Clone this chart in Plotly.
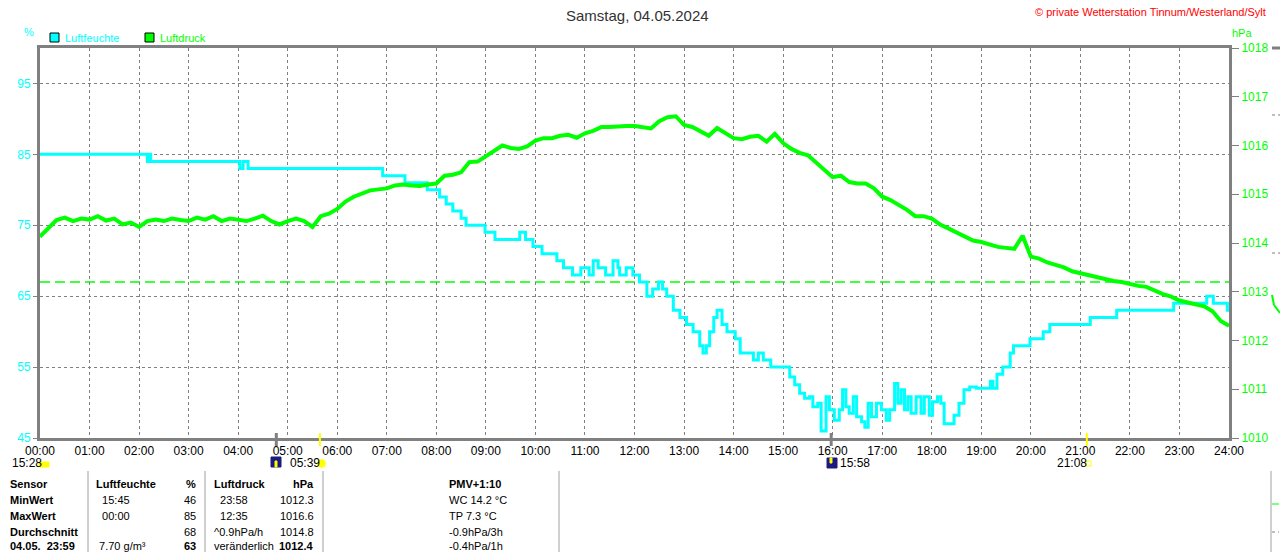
import plotly.graph_objects as go

# Luftfeuchte: change points (minute of day, %)
hum_minutes = [0, 130, 132, 134, 242, 246, 252, 415, 442, 469, 484, 492, 500, 510, 516,
               539, 551, 581, 588, 597, 608, 626, 634, 645, 655, 665, 670, 676, 685, 694,
               700, 702, 710, 718, 726, 735, 742, 749, 754, 759, 767, 775, 783, 791, 799,
               803, 807, 811, 816, 820, 826, 832, 842, 848, 864, 870, 876, 885, 908, 914,
               920, 926, 932, 936, 942, 946, 952, 956, 962, 968, 972, 976, 980, 985, 989,
               995, 999, 1003, 1007, 1013, 1019, 1025, 1029, 1035, 1039, 1043, 1047, 1051,
               1055, 1061, 1067, 1071, 1077, 1081, 1087, 1091, 1095, 1101, 1107, 1113, 1119,
               1126, 1134, 1151, 1154, 1159, 1166, 1175, 1179, 1199, 1215, 1223, 1272, 1304,
               1373, 1413, 1421, 1438, 1440]
hum_values = [85, 84, 85, 84, 83, 84, 83, 82, 81, 80, 79, 78, 77, 76, 75,
              74, 73, 74, 73, 72, 71, 70, 69, 68, 69, 68, 70, 69, 68, 70,
              69, 68, 69, 68, 67, 65, 66, 67, 66, 65, 63, 62, 61, 60, 58,
              57, 58, 60, 62, 63, 61, 60, 59, 57, 56, 57, 56, 55, 53.6, 52.5,
              51.3, 50.6, 50.8, 49.4, 49.9, 46.0, 50.8, 49.0, 47.5, 49.0, 51.8, 49.4, 48.5, 50.8, 48.0,
              47.3, 46.5, 49.9, 48.0, 49.9, 49.0, 47.5, 49.0, 52.7, 49.9, 51.8, 49.0, 50.8,
              48.5, 50.8, 48.5, 50.8, 48.2, 50.1, 50.8, 49.9, 47.0, 47.0, 48.2, 49.9, 51.8,
              52.2, 52.0, 53.0, 52.0, 54.0, 55.0, 57.0, 58.0, 59.0, 60.0, 61.0, 62.0, 63.0,
              64.0, 65.0, 64.0, 63.0, 63.0]

# Luftdruck every 10 minutes (hPa)
pres_values = [1014.13, 1014.30, 1014.47, 1014.52, 1014.45, 1014.50, 1014.48, 1014.55, 1014.46, 1014.50,
               1014.38, 1014.42, 1014.33, 1014.45, 1014.48, 1014.45, 1014.50, 1014.47, 1014.45, 1014.52,
               1014.48, 1014.55, 1014.45, 1014.50, 1014.48, 1014.45, 1014.50, 1014.56, 1014.45, 1014.38,
               1014.45, 1014.50, 1014.45, 1014.33, 1014.55, 1014.60, 1014.70, 1014.85, 1014.95, 1015.02,
               1015.08, 1015.10, 1015.12, 1015.18, 1015.20, 1015.18, 1015.17, 1015.20, 1015.22, 1015.38,
               1015.40, 1015.45, 1015.66, 1015.67, 1015.78, 1015.90, 1016.00, 1015.95, 1015.93, 1015.98,
               1016.10, 1016.15, 1016.15, 1016.20, 1016.22, 1016.16, 1016.25, 1016.30, 1016.38, 1016.38,
               1016.40, 1016.40, 1016.40, 1016.38, 1016.35, 1016.50, 1016.58, 1016.60, 1016.42, 1016.38,
               1016.28, 1016.20, 1016.36, 1016.25, 1016.15, 1016.13, 1016.18, 1016.20, 1016.08, 1016.24,
               1016.05, 1015.93, 1015.85, 1015.80, 1015.65, 1015.50, 1015.35, 1015.38, 1015.25, 1015.22,
               1015.22, 1015.12, 1014.95, 1014.88, 1014.78, 1014.68, 1014.55, 1014.55, 1014.50, 1014.38,
               1014.30, 1014.22, 1014.12, 1014.05, 1014.02, 1013.97, 1013.92, 1013.90, 1013.88, 1014.15,
               1013.72, 1013.68, 1013.60, 1013.55, 1013.50, 1013.42, 1013.38, 1013.33, 1013.28, 1013.25,
               1013.22, 1013.20, 1013.15, 1013.12, 1013.10, 1013.02, 1012.95, 1012.90, 1012.82, 1012.78,
               1012.73, 1012.70, 1012.60, 1012.40, 1012.30]
pres_minutes = list(range(0, 1441, 10))

ref_pressure = 1013.2

hour_labels = ["%02d:00" % h for h in range(25)]
hum_ticks = [45, 55, 65, 75, 85, 95]
pres_ticks = [1010, 1011, 1012, 1013, 1014, 1015, 1016, 1017, 1018]

# sun / moon events (hour of day) shown as ticks under the axis
event_hours = [4.77, 5.65, 15.97, 21.13]
event_colors = ["#808080", "#ffff00", "#808080", "#ffff00"]

table_rows = [
    ["Sensor", "Luftfeuchte", "%", "Luftdruck", "hPa"],
    ["MinWert", "  15:45", "46", "  23:58", "1012.3"],
    ["MaxWert", "  00:00", "85", "  12:35", "1016.6"],
    ["Durchschnitt", "", "68", "^0.9hPa/h", "1014.8"],
    ["04.05.  23:59", " 7.70 g/m³", "63", "veränderlich", "1012.4"],
]
pmv_lines = ["PMV+1:10", "WC 14.2 °C", "TP 7.3 °C", "-0.9hPa/3h", "-0.4hPa/1h"]

CYAN = "#00ffff"
GREEN = "#00ff00"
GRAY = "#808080"
FONT = "Liberation Sans"

W, H = 1280, 552
L, R, T, B = 40, 51, 48, 114


def px(xp, yp):
    # pixel position -> paper coordinates
    return (xp - L) / (W - L - R), (H - B - yp) / (H - T - B)


fig = go.Figure()

fig.add_trace(go.Scatter(
    x=[m / 60 for m in hum_minutes], y=hum_values, mode="lines",
    line=dict(color=CYAN, width=3, shape="hv"), name="Luftfeuchte", yaxis="y"))

fig.add_trace(go.Scatter(
    x=[m / 60 for m in pres_minutes], y=pres_values, mode="lines",
    line=dict(color=GREEN, width=4), name="Luftdruck", yaxis="y2"))

shapes = [dict(type="line", xref="paper", x0=0, x1=1, yref="y2", y0=ref_pressure, y1=ref_pressure,
               line=dict(color=GREEN, width=1.5, dash="10px,5px"), layer="below")]

for h, c in zip(event_hours, event_colors):
    y0 = px(0, 433)[1]
    y1 = px(0, 446)[1]
    shapes.append(dict(type="line", xref="x", x0=h, x1=h, yref="paper", y0=y0, y1=y1,
                       line=dict(color=c, width=3 if c == GRAY else 2)))

ann = []


def text(xp, yp, s, color="black", size=12, anchor="left", bold=False):
    x, y = px(xp, yp)
    ann.append(dict(x=x, y=y, xref="paper", yref="paper", text="<b>%s</b>" % s if bold else s,
                    showarrow=False, xanchor=anchor, yanchor="middle",
                    font=dict(family=FONT, size=size, color=color)))


def box(x0, y0, x1, y1, fill, line="black", width=1):
    a, b = px(x0, y1)
    c, d = px(x1, y0)
    shapes.append(dict(type="rect", xref="paper", yref="paper", x0=a, y0=b, x1=c, y1=d,
                       fillcolor=fill, line=dict(color=line, width=width)))


def seg(x0, y0, x1, y1, color=GRAY, width=1, dash=None):
    a, b = px(x0, y0)
    c, d = px(x1, y1)
    shapes.append(dict(type="line", xref="paper", yref="paper", x0=a, y0=b, x1=c, y1=d,
                       line=dict(color=color, width=width, dash=dash)))


# header
text(638, 15, "Samstag, 04.05.2024", color="#333333", size=15, anchor="center")
text(1268, 12, "© private Wetterstation Tinnum/Westerland/Sylt", color="#ff0000", size=11, anchor="right")
text(22, 32, "%", color=CYAN, size=11)
text(1230, 33, "hPa", color=GREEN, size=11)

# legend
box(50, 33, 59, 42, CYAN)
text(63, 38, "Luftfeuchte", color=CYAN, size=11)
box(145, 33, 154, 42, GREEN)
text(158, 38, "Luftdruck", color=GREEN, size=11)

# sun / moon labels below the time axis
text(10, 463, "15:28", size=12)
box(39, 462, 49, 467, "#ffff00", line="#ffff00")
box(271, 457, 281, 467, "#1a1a80", line="#1a1a80")
box(275, 461, 277, 467, "#ffff00", line="#ffff00")
text(288, 463, "05:39", size=12)
shapes.append(dict(type="circle", xref="paper", yref="paper",
                   x0=px(317, 0)[0], x1=px(326, 0)[0], y0=px(0, 468)[1], y1=px(0, 459)[1],
                   fillcolor="#ffff00", line=dict(color="#ffffa0", width=1)))
box(827, 458, 837, 468, "#1a1a80", line="#1a1a80")
box(830, 458, 832, 463, "#ffff00", line="#ffff00")
text(838, 463, "15:58", size=12)
text(1055, 463, "21:08", size=12)
box(1086, 461, 1091, 466, "white", line="#ffff00")

# table
col_x = [8, 94, 198, 212, 316]
col_anchor = ["left", "left", "right", "left", "right"]
row_y = [484, 500, 516, 532, 546]
for r, row in enumerate(table_rows):
    for c, s in enumerate(row):
        if not s:
            continue
        bold = r == 0 or c == 0 or (r == 4 and c in (2, 4))
        text(col_x[c], row_y[r], s.replace(" ", "&nbsp;"), size=11, anchor=col_anchor[c], bold=bold)
for i, s in enumerate(pmv_lines):
    text(447, row_y[i], s, size=11, bold=(i == 0))
for xv in [88, 205, 323, 559]:
    seg(xv, 471, xv, 552, color="#a0a0a0", width=1)

# neighbouring chart edge on the right
seg(1271, 471, 1271, 552, color="#a0a0a0", width=1)
seg(1272, 504, 1279, 504, color=GREEN, width=1)
seg(1272, 532, 1279, 532, color=GRAY, width=1, dash="dot")
seg(1272, 48, 1280, 48, color=GRAY, width=3)
seg(1272, 115, 1280, 115, color=GRAY, width=1, dash="dot")
seg(1272, 253, 1280, 253, color=GRAY, width=1, dash="dot")
seg(1272, 295, 1274, 305, color=GREEN, width=2)
seg(1274, 305, 1280, 313, color=GREEN, width=2)

fig.update_layout(
    width=W, height=H,
    margin=dict(l=L, r=R, t=T, b=B, pad=0),
    paper_bgcolor="white", plot_bgcolor="white",
    showlegend=False,
    font=dict(family=FONT, size=12),
    xaxis=dict(range=[0, 24], tickvals=list(range(25)), ticktext=hour_labels,
               tickfont=dict(color="black", size=12), ticks="", showgrid=True,
               gridcolor=GRAY, griddash="3px,3px", gridwidth=1,
               showline=True, linecolor=GRAY, linewidth=3, mirror=True, zeroline=False),
    yaxis=dict(range=[45, 100], tickvals=hum_ticks, tickfont=dict(color=CYAN, size=12),
               ticks="outside", ticklen=4, tickcolor=GRAY, showgrid=True,
               gridcolor=GRAY, griddash="3px,3px", gridwidth=1,
               showline=True, linecolor=GRAY, linewidth=3, zeroline=False),
    yaxis2=dict(range=[1010, 1018], tickvals=pres_ticks, overlaying="y", side="right",
                tickfont=dict(color=GREEN, size=12), ticks="outside", ticklen=7, tickcolor=GRAY,
                showgrid=False, showline=True, linecolor=GRAY, linewidth=3, zeroline=False),
    shapes=shapes,
    annotations=ann,
)

# page body has a default margin; remove it so the figure sits at the window's corner
fig.write_html("out.html", config={"displayModeBar": False},
               post_script="document.body.style.margin='0';")
